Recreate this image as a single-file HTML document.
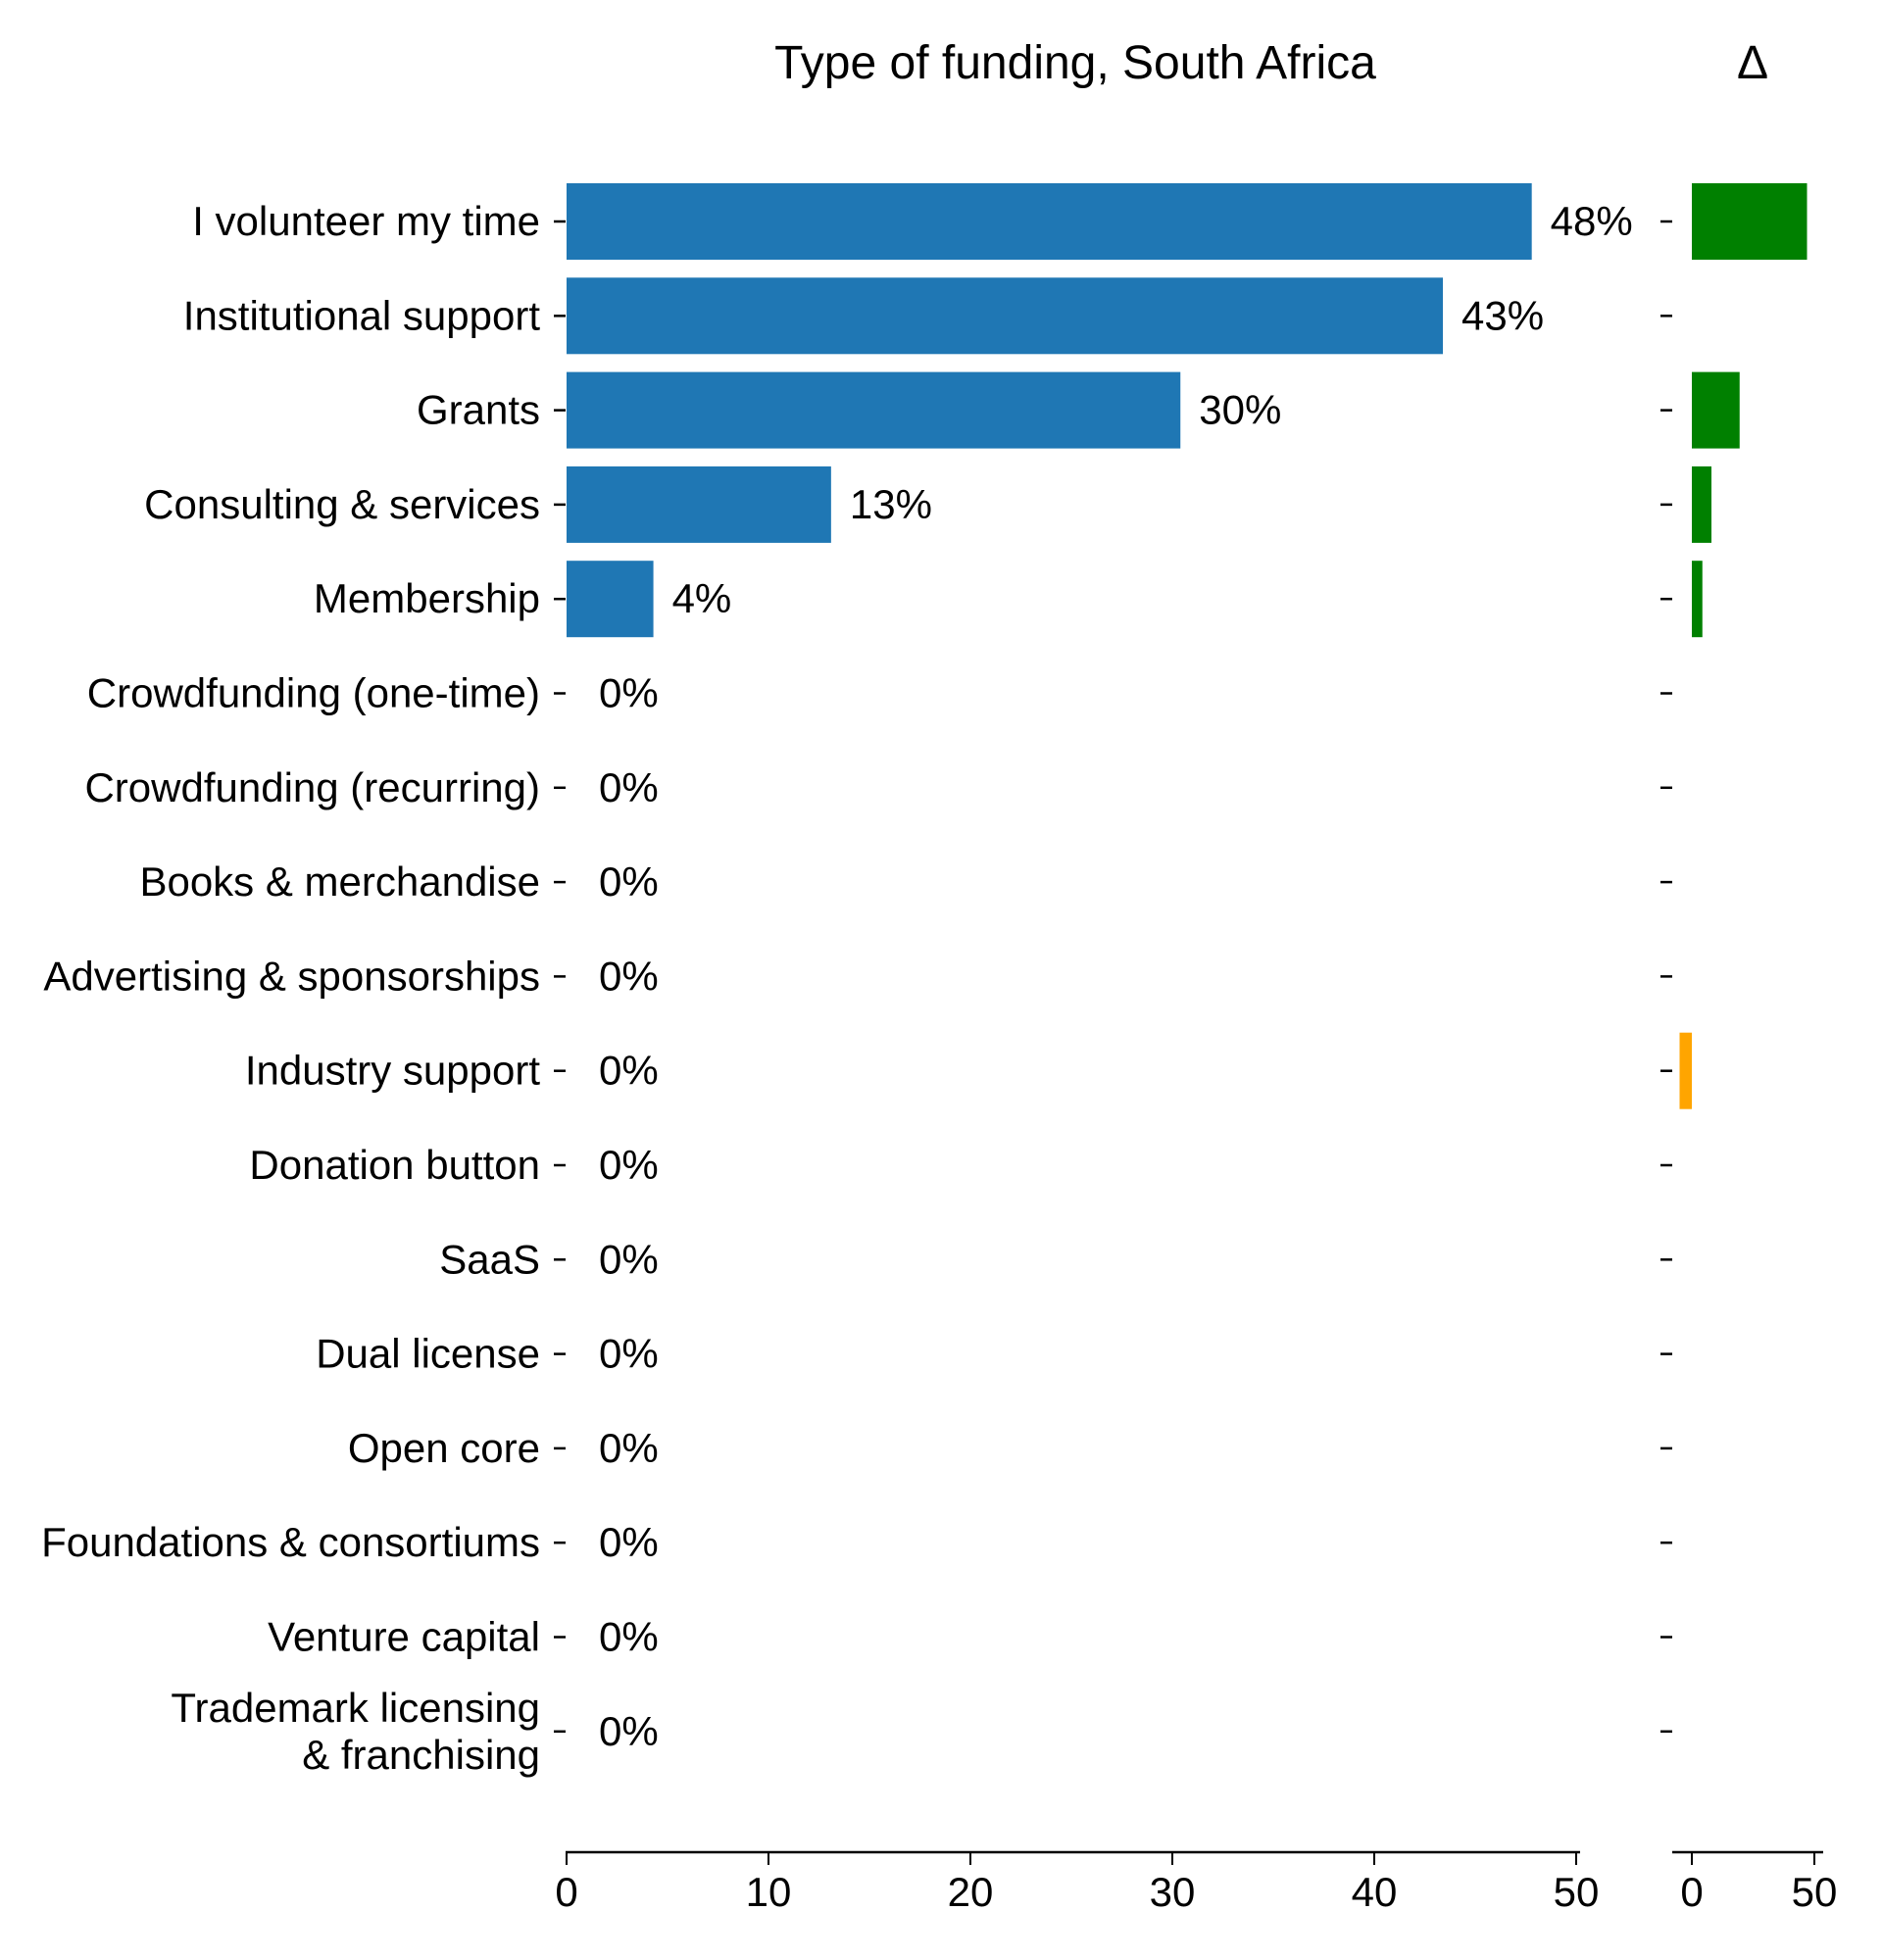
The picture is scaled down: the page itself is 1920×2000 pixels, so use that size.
<!DOCTYPE html>
<html><head><meta charset="utf-8"><style>
body{margin:0;background:#fff}
svg{display:block;font-family:"Liberation Sans",Arial,sans-serif}
</style></head><body>
<svg id="chart" width="1920" height="2000" viewBox="0 0 1920 2000" xmlns="http://www.w3.org/2000/svg">
<text x="1097" y="80" font-size="48" text-anchor="middle">Type of funding, South Africa</text>
<text x="1788" y="80" font-size="48" text-anchor="middle">Δ</text>
<g id="main"></g>
</svg>
<script>
const categories = ["I volunteer my time","Institutional support","Grants","Consulting & services","Membership","Crowdfunding (one-time)","Crowdfunding (recurring)","Books & merchandise","Advertising & sponsorships","Industry support","Donation button","SaaS","Dual license","Open core","Foundations & consortiums","Venture capital","Trademark licensing\n& franchising"];
const values = [47.8,43.4,30.4,13.1,4.3,0,0,0,0,0,0,0,0,0,0,0,0];
const valueLabels = ["48%","43%","30%","13%","4%","0%","0%","0%","0%","0%","0%","0%","0%","0%","0%","0%","0%"];
const deltas = [47,0,19.5,8,4.3,0,0,0,0,-5,0,0,0,0,0,0,0];
const xTicks = [0,10,20,30,40,50];
const dTicks = [0,50];

const NS="http://www.w3.org/2000/svg";
const g=document.getElementById('main');
function el(t,a,txt){const e=document.createElementNS(NS,t);for(const k in a)e.setAttribute(k,a[k]);if(txt!=null)e.textContent=txt;g.appendChild(e);return e;}
const x=v=>578+v*20.6;
const xd=v=>1726+v*2.5;
const y=i=>226+i*96.3;
const bh=78;
const FS=42;

categories.forEach((c,i)=>{
  const cy=y(i);
  const b=el('rect',{x:x(0),y:cy-bh/2,width:Math.max(0,x(values[i])-x(0)),height:bh,fill:'#1f77b4'});
  
  
  const vl=el('text',{x:x(values[i])+(values[i]>0?19:33),y:cy+14,'font-size':FS},valueLabels[i]);
  
  
  const t1=el('line',{x1:565,x2:577,y1:cy,y2:cy,stroke:'#000','stroke-width':2.5});
  
  
  const lines=c.split('\n');
  const off=(lines.length-1)*24;
  lines.forEach((ln,k)=>{
    const t=el('text',{x:551,y:cy+14-off+k*48,'font-size':FS,'text-anchor':'end'},ln);
    
    
  });
  const t2=el('line',{x1:1694,x2:1706,y1:cy,y2:cy,stroke:'#000','stroke-width':2.5});
  
  
  const d=deltas[i];
  if(d!==0){
    const r=el('rect',{x:Math.min(xd(0),xd(d)),y:cy-bh/2,width:Math.abs(xd(d)-xd(0)),height:bh,fill:d>0?'#008000':'#ffa500'});
    
    
  }
});
const AY=1890;
const ax=el('line',{x1:577,x2:1612,y1:AY,y2:AY,stroke:'#000','stroke-width':2.5});


xTicks.forEach(v=>{
  const l=el('line',{x1:x(v),x2:x(v),y1:AY,y2:AY+13,stroke:'#000','stroke-width':2});
  
  
  const t=el('text',{x:x(v),y:AY+55,'font-size':FS,'text-anchor':'middle'},String(v));
  
  
});
const ax2=el('line',{x1:1706,x2:1860,y1:AY,y2:AY,stroke:'#000','stroke-width':2.5});


dTicks.forEach(v=>{
  const l=el('line',{x1:xd(v),x2:xd(v),y1:AY,y2:AY+13,stroke:'#000','stroke-width':2});
  
  
  const t=el('text',{x:xd(v),y:AY+55,'font-size':FS,'text-anchor':'middle'},String(v));
  
  
});
</script>
</body></html>
